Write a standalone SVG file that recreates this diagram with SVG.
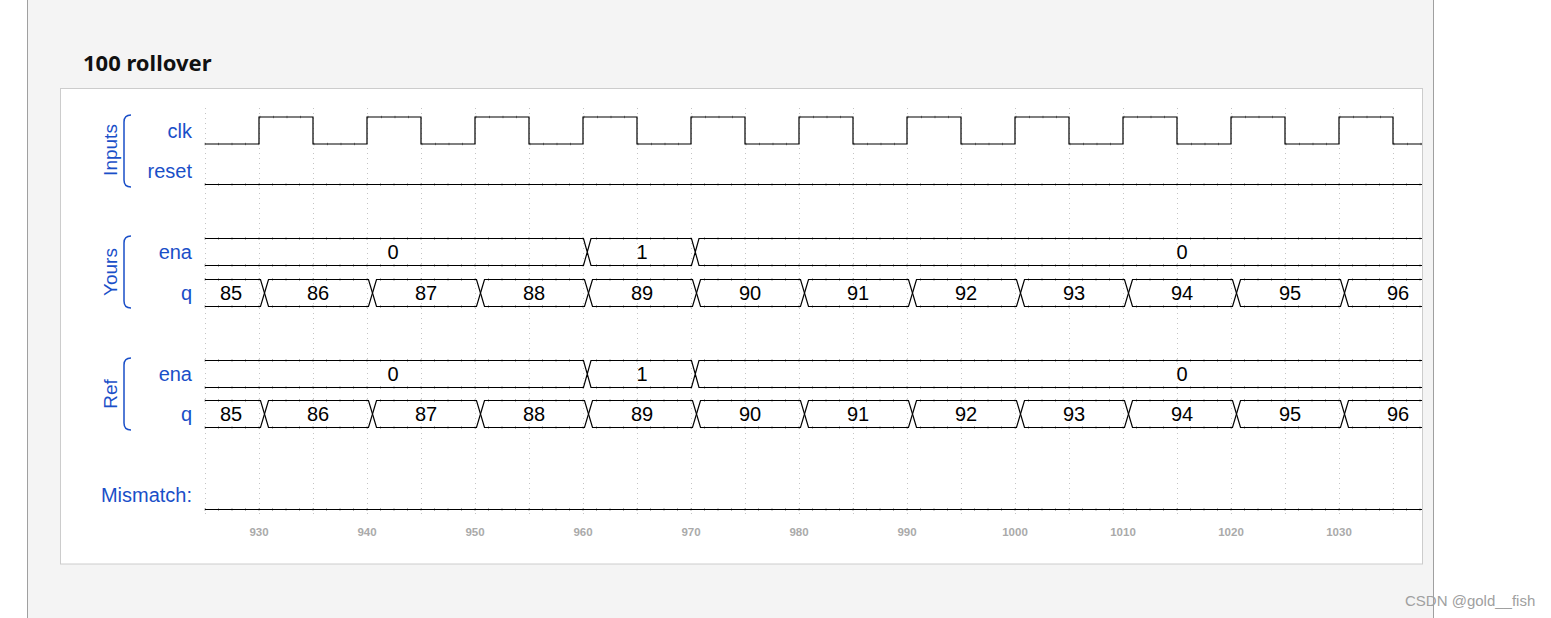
<svg xmlns="http://www.w3.org/2000/svg" xmlns:xlink="http://www.w3.org/1999/xlink" width="1551" height="618" viewBox="0 0 1551 618">
<style>
.lbl{font-family:"Liberation Sans",Arial,sans-serif;font-size:20px;fill:#1a4fc8;text-anchor:end}
.grp{font-family:"Liberation Sans",Arial,sans-serif;font-size:19px;fill:#1a4fc8;text-anchor:middle}
.val{font-family:"Liberation Sans",Arial,sans-serif;font-size:20px;fill:#000;text-anchor:middle}
.ax{font-family:"Liberation Sans",Arial,sans-serif;font-size:11.5px;font-weight:bold;fill:#aaaaaa;text-anchor:middle}
.wave{fill:none;stroke:#000;stroke-width:1.2}
.tick{fill:none;stroke:#000;stroke-opacity:0.4;stroke-width:2.6;stroke-dasharray:1 12.5}
.grid{stroke:#c4c4c4;stroke-width:1;stroke-dasharray:1 4}
.brk{fill:none;stroke:#1a4fc8;stroke-width:1.5}
</style>
<defs>
<path id="qseg" d="M5.5,13.5 L9.5,0 H109.5 L113.5,13.5 L109.5,27 H9.5 Z"/>
</defs>
<rect x="0" y="0" width="1551" height="618" fill="#ffffff"/>
<rect x="27.5" y="-2" width="1406" height="622" fill="#f4f4f4"/>
<line x1="27.5" y1="0" x2="27.5" y2="618" stroke="#a0a0a0"/>
<line x1="1433.5" y1="0" x2="1433.5" y2="618" stroke="#a0a0a0"/>
<text x="83" y="71" font-family="'Noto Sans','Open Sans',sans-serif" font-size="22" font-weight="bold" fill="#111">100 rollover</text>
<rect x="60.5" y="88.5" width="1362" height="475.5" fill="#ffffff" stroke="#cccccc"/>

<g id="grid">
<path class="grid" d="M205.5,108V514 M259.5,108V514 M313.5,108V514 M367.5,108V514 M421.5,108V514 M475.5,108V514 M529.5,108V514 M583.5,108V514 M637.5,108V514 M691.5,108V514 M745.5,108V514 M799.5,108V514 M853.5,108V514 M907.5,108V514 M961.5,108V514 M1015.5,108V514 M1069.5,108V514 M1123.5,108V514 M1177.5,108V514 M1231.5,108V514 M1285.5,108V514 M1339.5,108V514 M1393.5,108V514"/>
</g>

<g id="group-inputs">
<text class="grp" transform="translate(117,150) rotate(-90)">Inputs</text>
<path class="brk" d="M131,115 Q124,115 124,122 V180 Q124,187 131,187"/>
</g>
<g id="group-yours">
<text class="grp" transform="translate(117,272) rotate(-90)">Yours</text>
<path class="brk" d="M131,236 Q124,236 124,243 V301 Q124,308 131,308"/>
</g>
<g id="group-ref">
<text class="grp" transform="translate(117,394) rotate(-90)">Ref</text>
<path class="brk" d="M131,358 Q124,358 124,365 V423 Q124,430 131,430"/>
</g>

<g id="sig-clk">
<text class="lbl" x="192" y="138">clk</text>
<path class="wave" d="M205,144 H259 V117 H313 V144 H367 V117 H421 V144 H475 V117 H529 V144 H583 V117 H637 V144 H691 V117 H745 V144 H799 V117 H853 V144 H907 V117 H961 V144 H1015 V117 H1069 V144 H1123 V117 H1177 V144 H1231 V117 H1285 V144 H1339 V117 H1393 V144 H1422"/>
<path class="tick" d="M204.5,144 H259 M259.5,117 H313 M313.5,144 H367 M367.5,117 H421 M421.5,144 H475 M475.5,117 H529 M529.5,144 H583 M583.5,117 H637 M637.5,144 H691 M691.5,117 H745 M745.5,144 H799 M799.5,117 H853 M853.5,144 H907 M907.5,117 H961 M961.5,144 H1015 M1015.5,117 H1069 M1069.5,144 H1123 M1123.5,117 H1177 M1177.5,144 H1231 M1231.5,117 H1285 M1285.5,144 H1339 M1339.5,117 H1393 M1393.5,144 H1422"/>
</g>

<g id="sig-reset">
<text class="lbl" x="192" y="178">reset</text>
<path class="wave" d="M205,184.5 H1422"/>
<path class="tick" d="M204.5,184.5 H1422"/>
</g>

<g id="yours-ena">
<text class="lbl" x="192" y="259">ena</text>
<path class="wave" d="M205,238.5 H583.5 L587.25,252 L583.5,265.5 H205 M587.25,252 L591,238.5 H691.5 L695.25,252 L691.5,265.5 H591 Z M695.25,252 L699,238.5 H1422 M1422,265.5 H699 L695.25,252"/>
<path class="tick" d="M204.5,238.5 H1422 M204.5,265.5 H1422"/>
<text class="val" x="393" y="259">0</text>
<text class="val" x="642" y="259">1</text>
<text class="val" x="1182" y="259">0</text>
</g>

<g id="yours-q">
<text class="lbl" x="192" y="300">q</text>
<g class="wave">
<path d="M205,279.5 H260.5 L264.5,293 L260.5,306.5 H205"/>
<use xlink:href="#qseg" x="259" y="279.5"/>
<use xlink:href="#qseg" x="367" y="279.5"/>
<use xlink:href="#qseg" x="475" y="279.5"/>
<use xlink:href="#qseg" x="583" y="279.5"/>
<use xlink:href="#qseg" x="691" y="279.5"/>
<use xlink:href="#qseg" x="799" y="279.5"/>
<use xlink:href="#qseg" x="907" y="279.5"/>
<use xlink:href="#qseg" x="1015" y="279.5"/>
<use xlink:href="#qseg" x="1123" y="279.5"/>
<use xlink:href="#qseg" x="1231" y="279.5"/>
<path d="M1344.5,293 L1348.5,279.5 H1422 M1422,306.5 H1348.5 L1344.5,293"/>
</g>
<path class="tick" d="M204.5,279.5 H1422 M204.5,306.5 H1422"/>
<text class="val" x="231" y="300">85</text>
<text class="val" x="318" y="300">86</text>
<text class="val" x="426" y="300">87</text>
<text class="val" x="534" y="300">88</text>
<text class="val" x="642" y="300">89</text>
<text class="val" x="750" y="300">90</text>
<text class="val" x="858" y="300">91</text>
<text class="val" x="966" y="300">92</text>
<text class="val" x="1074" y="300">93</text>
<text class="val" x="1182" y="300">94</text>
<text class="val" x="1290" y="300">95</text>
<text class="val" x="1398" y="300">96</text>
</g>

<g id="ref-ena">
<text class="lbl" x="192" y="381">ena</text>
<path class="wave" d="M205,360.5 H583.5 L587.25,374 L583.5,387.5 H205 M587.25,374 L591,360.5 H691.5 L695.25,374 L691.5,387.5 H591 Z M695.25,374 L699,360.5 H1422 M1422,387.5 H699 L695.25,374"/>
<path class="tick" d="M204.5,360.5 H1422 M204.5,387.5 H1422"/>
<text class="val" x="393" y="381">0</text>
<text class="val" x="642" y="381">1</text>
<text class="val" x="1182" y="381">0</text>
</g>

<g id="ref-q">
<text class="lbl" x="192" y="421">q</text>
<g class="wave">
<path d="M205,400.5 H260.5 L264.5,414 L260.5,427.5 H205"/>
<use xlink:href="#qseg" x="259" y="400.5"/>
<use xlink:href="#qseg" x="367" y="400.5"/>
<use xlink:href="#qseg" x="475" y="400.5"/>
<use xlink:href="#qseg" x="583" y="400.5"/>
<use xlink:href="#qseg" x="691" y="400.5"/>
<use xlink:href="#qseg" x="799" y="400.5"/>
<use xlink:href="#qseg" x="907" y="400.5"/>
<use xlink:href="#qseg" x="1015" y="400.5"/>
<use xlink:href="#qseg" x="1123" y="400.5"/>
<use xlink:href="#qseg" x="1231" y="400.5"/>
<path d="M1344.5,414 L1348.5,400.5 H1422 M1422,427.5 H1348.5 L1344.5,414"/>
</g>
<path class="tick" d="M204.5,400.5 H1422 M204.5,427.5 H1422"/>
<text class="val" x="231" y="421">85</text>
<text class="val" x="318" y="421">86</text>
<text class="val" x="426" y="421">87</text>
<text class="val" x="534" y="421">88</text>
<text class="val" x="642" y="421">89</text>
<text class="val" x="750" y="421">90</text>
<text class="val" x="858" y="421">91</text>
<text class="val" x="966" y="421">92</text>
<text class="val" x="1074" y="421">93</text>
<text class="val" x="1182" y="421">94</text>
<text class="val" x="1290" y="421">95</text>
<text class="val" x="1398" y="421">96</text>
</g>

<g id="sig-mismatch">
<text class="lbl" x="192" y="502">Mismatch:</text>
<path class="wave" d="M205,509.5 H1422"/>
<path class="tick" d="M204.5,509.5 H1422"/>
</g>

<g id="axis">
<text class="ax" x="259" y="536">930</text>
<text class="ax" x="367" y="536">940</text>
<text class="ax" x="475" y="536">950</text>
<text class="ax" x="583" y="536">960</text>
<text class="ax" x="691" y="536">970</text>
<text class="ax" x="799" y="536">980</text>
<text class="ax" x="907" y="536">990</text>
<text class="ax" x="1015" y="536">1000</text>
<text class="ax" x="1123" y="536">1010</text>
<text class="ax" x="1231" y="536">1020</text>
<text class="ax" x="1339" y="536">1030</text>
</g>

<text x="1405" y="606" font-family="'Liberation Sans',Arial,sans-serif" font-size="15" fill="#a0a0a0">CSDN @gold__fish</text>
</svg>
